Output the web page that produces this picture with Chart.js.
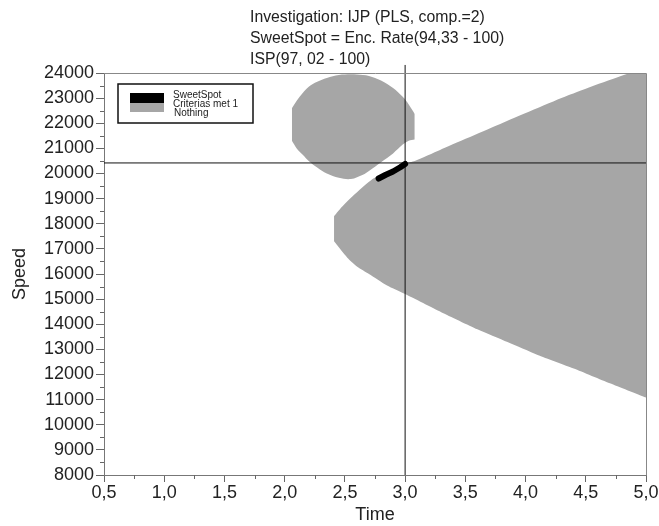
<!DOCTYPE html>
<html>
<head>
<meta charset="utf-8">
<script src="https://cdn.jsdelivr.net/npm/chart.js@4"></script>
<style>
  html, body { margin: 0; padding: 0; background: #fff; }
  #wrap { width: 659px; height: 526px; }
</style>
</head>
<body>
<div id="wrap"><canvas id="myChart" width="659" height="526"></canvas></div>
<script>
// Title lines and legend labels
const titleLines = ['Investigation: IJP (PLS, comp.=2)', 'SweetSpot = Enc. Rate(94,33 - 100)', 'ISP(97, 02 - 100)'];
const legendLabels = ['SweetSpot', 'Criterias met 1', 'Nothing'];

// Axis ranges
const timeMin = 0.5, timeMax = 5.0, timeStep = 0.5;
const speedMin = 8000, speedMax = 24000, speedStep = 1000;

// Gray blob (top left): upper and lower edge
const circleTime = [2.06, 2.10, 2.15, 2.20, 2.27, 2.35, 2.45, 2.55, 2.65, 2.70, 2.80, 2.90, 2.98, 3.03, 3.08];
const circleTop = [22600, 22900, 23200, 23450, 23650, 23800, 23920, 23950, 23920, 23880, 23700, 23400, 23050, 22750, 22370];
const circleBottom = [21300, 21000, 20750, 20500, 20240, 20000, 19830, 19780, 19950, 20100, 20450, 20800, 21150, 21300, 21350];

// Gray region opening to the right
const upperTime = [2.41, 2.46, 2.57, 2.73, 2.85, 3.00, 3.08, 3.29, 3.79, 4.35, 4.87, 5.00];
const upperSpeed = [18300, 18590, 19120, 19780, 20050, 20400, 20500, 20940, 21970, 23100, 24000, 24000];
const lowerTime = [2.41, 2.52, 2.60, 2.70, 2.85, 3.00, 3.30, 3.60, 3.85, 4.10, 4.40, 4.70, 5.00];
const lowerSpeed = [17300, 16650, 16300, 16000, 15540, 15200, 14480, 13800, 13290, 12780, 12240, 11650, 11080];

// Sweet spot band
const bandTime = [2.78, 2.84, 2.90, 2.96, 3.00];
const bandSpeed = [19800, 19950, 20080, 20250, 20380];

// Crosshair
const crossTime = 3.0;
const crossSpeed = 20420;
const crossTopSpeed = 24320;

const gray = '#a6a6a6';
const font = '"Liberation Sans", Arial, sans-serif';

function pts(xs, ys) {
    return xs.map((x, i) => ({ x: x, y: ys[i] }));
}

// Title, legend box, frame and minor ticks
const decor = {
    id: 'decor',
    afterDraw(chart) {
        const c = chart.ctx;
        const a = chart.chartArea;
        const xs = chart.scales.x, ys = chart.scales.y;
        c.save();
        // frame top/right
        c.strokeStyle = '#888';
        c.lineWidth = 1;
        c.beginPath();
        c.moveTo(a.left, a.top + 0.5);
        c.lineTo(a.right + 0.5, a.top + 0.5);
        c.lineTo(a.right + 0.5, a.bottom);
        c.stroke();
        // minor ticks
        c.strokeStyle = '#666';
        c.beginPath();
        for (let v = speedMin + speedStep / 2; v < speedMax; v += speedStep) {
            const y = Math.round(ys.getPixelForValue(v)) + 0.5;
            c.moveTo(a.left - 4, y);
            c.lineTo(a.left, y);
        }
        for (let v = timeMin + timeStep / 2; v < timeMax; v += timeStep) {
            const x = Math.round(xs.getPixelForValue(v)) + 0.5;
            c.moveTo(x, a.bottom);
            c.lineTo(x, a.bottom + 4);
        }
        c.stroke();
        // title
        c.fillStyle = '#222';
        c.font = '15.8px ' + font;
        c.textAlign = 'left';
        c.textBaseline = 'middle';
        titleLines.forEach((t, i) => c.fillText(t, 250, 18 + i * 21));
        // legend
        c.fillStyle = '#fff';
        c.fillRect(118, 84, 135, 39);
        c.strokeStyle = '#111';
        c.lineWidth = 1.5;
        c.strokeRect(118, 84, 135, 39);
        c.fillStyle = '#000';
        c.fillRect(130, 93, 34, 10);
        c.fillStyle = gray;
        c.fillRect(130, 103, 34, 9);
        c.fillStyle = '#222';
        c.font = '10px ' + font;
        c.fillText(legendLabels[0], 173, 95);
        c.fillText(legendLabels[1], 173, 104);
        c.fillText(legendLabels[2], 174, 113);
        c.restore();
    }
};

const ctx = document.getElementById('myChart').getContext('2d');
new Chart(ctx, {
    type: 'line',
    data: {
        datasets: [
            {
                data: pts(bandTime, bandSpeed),
                borderColor: '#000', borderWidth: 6, borderCapStyle: 'round', borderJoinStyle: 'round',
                pointRadius: 0, fill: false
            },
            {
                data: [{ x: crossTime, y: speedMin }, { x: crossTime, y: crossTopSpeed }],
                borderColor: '#111', borderWidth: 1, pointRadius: 0, fill: false, clip: false
            },
            {
                data: [{ x: timeMin, y: crossSpeed }, { x: timeMax, y: crossSpeed }],
                borderColor: '#111', borderWidth: 1, pointRadius: 0, fill: false
            },
            {
                data: pts(circleTime, circleTop),
                borderWidth: 0, pointRadius: 0, backgroundColor: gray, fill: '+1', tension: 0.35
            },
            {
                data: pts(circleTime, circleBottom),
                borderWidth: 0, pointRadius: 0, fill: false, tension: 0.35
            },
            {
                data: pts(upperTime, upperSpeed),
                borderWidth: 0, pointRadius: 0, backgroundColor: gray, fill: '+1', tension: 0.2
            },
            {
                data: pts(lowerTime, lowerSpeed),
                borderWidth: 0, pointRadius: 0, fill: false, tension: 0.2
            }
        ]
    },
    options: {
        responsive: false,
        animation: false,
        layout: { padding: { left: 0, right: 13, top: 73, bottom: 0 } },
        plugins: {
            legend: { display: false },
            tooltip: { enabled: false },
            title: { display: false }
        },
        scales: {
            x: {
                type: 'linear',
                min: timeMin, max: timeMax,
                afterFit: (s) => { s.height = 51; },
                ticks: {
                    stepSize: timeStep,
                    color: '#222',
                    font: { family: font, size: 18 },
                    padding: 0,
                    maxRotation: 0,
                    callback: (v) => v.toFixed(1).replace('.', ',')
                },
                grid: { drawOnChartArea: false, drawTicks: true, tickLength: 7, color: '#666' },
                border: { display: true, color: '#777', width: 1 },
                title: {
                    display: true, text: 'Time', color: '#222',
                    font: { family: font, size: 18 },
                    padding: 0
                }
            },
            y: {
                type: 'linear',
                min: speedMin, max: speedMax,
                afterFit: (s) => { s.width = 104; },
                ticks: {
                    stepSize: speedStep,
                    color: '#222',
                    font: { family: font, size: 18 },
                    padding: 2,
                    callback: (v) => String(v)
                },
                grid: { drawOnChartArea: false, drawTicks: true, tickLength: 8, color: '#666' },
                border: { display: true, color: '#777', width: 1 },
                title: {
                    display: true, text: 'Speed', color: '#222',
                    font: { family: font, size: 18 },
                    padding: { top: 9, bottom: 0 }
                }
            }
        }
    },
    plugins: [decor]
});
</script>
</body>
</html>
